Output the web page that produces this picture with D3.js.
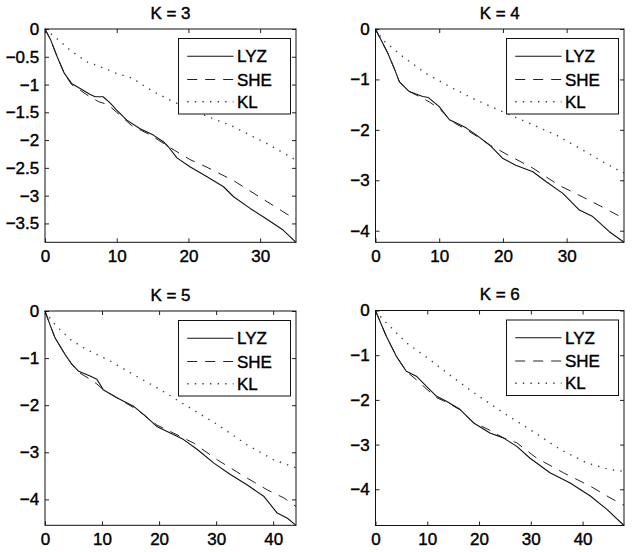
<!DOCTYPE html>
<html>
<head>
<meta charset="utf-8">
<script src="https://cdn.jsdelivr.net/npm/d3@7"></script>
<style>
  html, body { margin: 0; padding: 0; background: #fff; }
  text { font-family: "Liberation Sans", Arial, Helvetica, sans-serif; fill: #000; stroke: #000; stroke-width: 0.4px; }
</style>
</head>
<body>
<svg id="chart" width="632" height="552"></svg>
<script>
// ---------- data ----------
const panelTitles = ["K = 3", "K = 4", "K = 5", "K = 6"];
const seriesNames = ["LYZ", "SHE", "KL"];

const k3Lyz = [[0,0],[0.8,-0.2],[1.7,-0.5],[2.7,-0.8],[3.7,-0.98],[4.9,-1.07],[6.3,-1.18],[7,-1.22],[8.1,-1.22],[9,-1.32],[10,-1.46],[11.4,-1.64],[13.2,-1.79],[15.1,-1.91],[16.5,-2.03],[17.2,-2.12],[18.4,-2.32],[20.2,-2.48],[22.6,-2.66],[24.9,-2.84],[26.3,-3.02],[28.6,-3.23],[30.9,-3.42],[33.2,-3.62],[35,-3.84]];
const k3She = [[0,0],[0.8,-0.2],[1.7,-0.5],[2.7,-0.8],[3.7,-1.0],[4.9,-1.1],[6,-1.2],[7.5,-1.31],[8.5,-1.35],[9.1,-1.4],[10,-1.5],[11.4,-1.66],[12.2,-1.75],[13.5,-1.83],[15,-1.93],[17,-2.1],[18.4,-2.21],[20.2,-2.35],[22.6,-2.49],[26.3,-2.73],[30,-3.03],[33.7,-3.33],[35,-3.42]];
const k3Kl  = [[0,0],[1.9,-0.2],[3.5,-0.38],[5.8,-0.59],[7.7,-0.68],[10,-0.8],[12.3,-0.89],[13.5,-1.0],[15.6,-1.16],[17.9,-1.31],[21.6,-1.52],[26.3,-1.76],[30.9,-2.06],[35,-2.36]];

const k4Lyz = [[0,0],[1,-0.25],[1.94,-0.48],[3,-0.8],[3.76,-1.05],[5.3,-1.24],[7.4,-1.34],[8.3,-1.36],[10,-1.54],[11.6,-1.8],[12.6,-1.86],[14.2,-1.96],[15.8,-2.1],[17.9,-2.3],[20,-2.57],[22,-2.7],[24.7,-2.83],[26.8,-3.03],[29.4,-3.26],[32,-3.59],[34.1,-3.72],[36.7,-4.02],[39,-4.23]];
const k4She = [[0,0],[1,-0.25],[1.94,-0.48],[3,-0.8],[3.76,-1.05],[5.3,-1.24],[7.5,-1.38],[8.5,-1.45],[10,-1.58],[11.6,-1.78],[12.6,-1.88],[14.2,-1.99],[15.8,-2.12],[17.9,-2.3],[19.4,-2.4],[20.5,-2.48],[24.7,-2.76],[28.8,-3.1],[32.5,-3.33],[35.6,-3.53],[39,-3.76]];
const k4Kl  = [[0,0],[1.15,-0.22],[4.3,-0.55],[7.9,-0.88],[11.6,-1.14],[15.3,-1.38],[19.4,-1.61],[23.6,-1.84],[28.3,-2.1],[32.5,-2.4],[36.2,-2.67],[39,-2.86]];

const k5Lyz = [[0,0],[0.9,-0.3],[1.76,-0.57],[3.5,-0.92],[4.7,-1.13],[5.9,-1.28],[7.9,-1.38],[9.1,-1.45],[10.2,-1.67],[12.6,-1.84],[15.5,-2.02],[17.3,-2.2],[19.6,-2.45],[22.5,-2.62],[24.3,-2.73],[26.7,-2.94],[29.6,-3.23],[32.5,-3.47],[35.4,-3.69],[38.4,-3.94],[40.7,-4.29],[42.5,-4.4],[44,-4.55]];
const k5She = [[0,0],[0.9,-0.3],[1.76,-0.57],[3.5,-0.92],[4.7,-1.13],[5.9,-1.3],[7.9,-1.45],[9.1,-1.55],[10.2,-1.67],[12.6,-1.84],[15.5,-2.05],[17.3,-2.2],[19.6,-2.42],[22.5,-2.59],[26,-2.8],[30.2,-3.16],[34.9,-3.51],[39,-3.8],[41.9,-3.97],[44,-4.15]];
const k5Kl  = [[0,0],[1.46,-0.25],[4.4,-0.6],[7.3,-0.82],[11.4,-1.06],[15.5,-1.35],[20.2,-1.67],[24.9,-2.02],[30.2,-2.41],[35.4,-2.84],[40.1,-3.16],[44,-3.33]];

const k6Lyz = [[0,0],[1,-0.28],[2.07,-0.57],[4,-1.02],[5.95,-1.36],[7.9,-1.47],[9.8,-1.69],[11.8,-1.92],[13.7,-2.03],[16.3,-2.21],[18.9,-2.51],[22.1,-2.74],[24.7,-2.85],[27.3,-3.04],[29.8,-3.3],[33.7,-3.63],[37.6,-3.86],[41.5,-4.15],[44.7,-4.45],[48,-4.81]];
const k6She = [[0,0],[1,-0.28],[2.07,-0.57],[4,-1.02],[5.95,-1.36],[7.9,-1.55],[9.8,-1.75],[11.8,-1.95],[13.7,-2.05],[16.3,-2.22],[18.9,-2.5],[22.1,-2.68],[24.7,-2.85],[27.3,-2.96],[31.1,-3.3],[36.3,-3.63],[41.5,-3.93],[45.3,-4.19],[48,-4.36]];
const k6Kl  = [[0,0],[1.43,-0.2],[5.95,-0.72],[10.5,-1.1],[15,-1.5],[19.5,-1.88],[24.7,-2.29],[29.8,-2.66],[35.7,-3.11],[40.8,-3.41],[45.3,-3.56],[48,-3.6]];

const xTicksA = [0, 10, 20, 30];
const xTicksB = [0, 10, 20, 30, 40];
const yTicksA = [0, -0.5, -1, -1.5, -2, -2.5, -3, -3.5];
const yTicksB = [0, -1, -2, -3, -4];

// ---------- layout ----------
const panels = [
  { title: panelTitles[0], series: [k3Lyz, k3She, k3Kl], xTicks: xTicksA, yTicks: yTicksA, left: 45,    top: 29,    width: 251,   height: 213.3 },
  { title: panelTitles[1], series: [k4Lyz, k4She, k4Kl], xTicks: xTicksA, yTicks: yTicksB, left: 375.5, top: 29,    width: 248.5, height: 213.3 },
  { title: panelTitles[2], series: [k5Lyz, k5She, k5Kl], xTicks: xTicksB, yTicks: yTicksB, left: 45,    top: 311,   width: 251,   height: 214.3 },
  { title: panelTitles[3], series: [k6Lyz, k6She, k6Kl], xTicks: xTicksB, yTicks: yTicksB, left: 375.5, top: 310.5, width: 248.5, height: 215 }
];
const styles = [
  { dash: null,    width: 1.1, color: "#111" },
  { dash: "10,8",  width: 1.0, color: "#222" },
  { dash: "1.4,6.2", width: 1.4, color: "#444" }
];
const fontSize = 17;
const fmt = v => (v < 0 ? "\u2212" : "") + String(Math.abs(v));

const svg = d3.select("#chart");

panels.forEach(p => {
  const g = svg.append("g").attr("transform", `translate(${p.left},${p.top})`);
  const all = p.series.flat();
  const x = d3.scaleLinear().domain([0, d3.max(all, d => d[0])]).range([0, p.width]);
  const y = d3.scaleLinear().domain([d3.min(all, d => d[1]), 0]).range([p.height, 0]);

  // series
  const line = d3.line().x(d => x(d[0])).y(d => y(d[1]));
  p.series.forEach((s, i) => {
    g.append("path").datum(s)
      .attr("d", line)
      .attr("fill", "none")
      .attr("stroke", styles[i].color)
      .attr("stroke-width", styles[i].width)
      .attr("stroke-dasharray", styles[i].dash)
      .attr("stroke-linejoin", "round");
  });

  // axes with inside ticks on all four sides
  const tickLen = 4;
  const bottom = g.append("g").attr("transform", `translate(0,${p.height})`)
    .call(d3.axisBottom(x).tickValues(p.xTicks).tickSizeInner(-tickLen).tickSizeOuter(0).tickPadding(7.5).tickFormat(fmt));
  const leftAx = g.append("g")
    .call(d3.axisLeft(y).tickValues(p.yTicks).tickSizeInner(-tickLen).tickSizeOuter(0).tickPadding(5.8).tickFormat(fmt));
  const topAx = g.append("g")
    .call(d3.axisTop(x).tickValues(p.xTicks).tickSizeInner(-tickLen).tickSizeOuter(0).tickFormat(""));
  const rightAx = g.append("g").attr("transform", `translate(${p.width},0)`)
    .call(d3.axisRight(y).tickValues(p.yTicks).tickSizeInner(-tickLen).tickSizeOuter(0).tickFormat(""));
  [bottom, leftAx, topAx, rightAx].forEach(a => {
    a.select(".domain").remove();
    a.selectAll("line").attr("stroke", "#222").attr("stroke-width", 1);
    a.selectAll("text").attr("font-size", fontSize).attr("font-family", null).style("fill", "#000");
  });

  // box
  g.append("rect").attr("x", 0).attr("y", 0).attr("width", p.width).attr("height", p.height)
    .attr("fill", "none").attr("stroke", "#111").attr("stroke-width", 1);

  // title
  g.append("text").attr("x", p.width / 2).attr("y", -10.5)
    .attr("text-anchor", "middle").attr("font-size", fontSize).text(p.title);

  // legend
  const lw = 112, lh = 75.5;
  const lg = g.append("g").attr("transform", `translate(${p.width - 5.5 - lw},9.5)`);
  lg.append("rect").attr("width", lw).attr("height", lh).attr("fill", "#fff").attr("stroke", "#111").attr("stroke-width", 1);
  const rowY = [17.7, 41, 63.3];
  seriesNames.forEach((name, i) => {
    lg.append("line").attr("x1", 8.7).attr("x2", 55).attr("y1", rowY[i]).attr("y2", rowY[i])
      .attr("stroke", styles[i].color).attr("stroke-width", styles[i].width)
      .attr("stroke-dasharray", styles[i].dash);
    lg.append("text").attr("x", 58.5).attr("y", rowY[i]).attr("dy", "0.36em")
      .attr("font-size", fontSize).text(name);
  });
});
</script>
</body>
</html>
